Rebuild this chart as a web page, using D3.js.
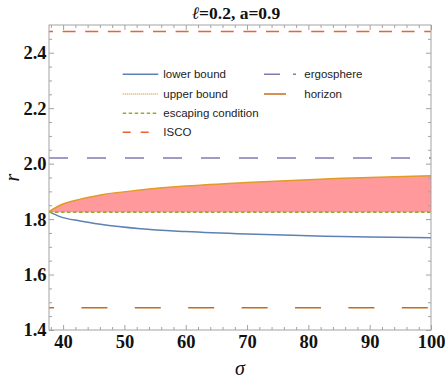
<!DOCTYPE html>
<html>
<head>
<meta charset="utf-8">
<script src="https://cdn.jsdelivr.net/npm/d3@7"></script>
<style>
  body { margin: 0; background: #fff; }
  svg { display: block; }
</style>
</head>
<body>
<script>
// sigma samples and the two bounding curves
const sigma = [37.7, 39.5, 42.8, 46.1, 52.6, 60, 70, 80, 85.4, 90, 100];
const lowerBound = [1.827, 1.809, 1.793, 1.781, 1.765, 1.755, 1.746, 1.740, 1.737, 1.735, 1.733];
const upperBound = [1.827, 1.850, 1.872, 1.887, 1.905, 1.919, 1.932, 1.942, 1.947, 1.950, 1.956];
// constant radii
const escapeR = 1.825;
const iscoR = 2.477;
const ergoR = 2.02;
const horizonR = 1.48;

const xTicks = [40, 50, 60, 70, 80, 90, 100];
const yTicks = [1.4, 1.6, 1.8, 2.0, 2.2, 2.4];
const legendItems = [
  { label: "lower bound", key: "lower" },
  { label: "upper bound", key: "upper" },
  { label: "escaping condition", key: "escape" },
  { label: "ISCO", key: "isco" },
  { label: "ergosphere", key: "ergo" },
  { label: "horizon", key: "horizon" },
];

const W = 445, H = 378;
const margin = { top: 25, left: 49, bottom: 48, right: 14 };
const width = W - margin.left - margin.right;
const height = H - margin.top - margin.bottom;

const styles = {
  lower: { color: "#5E81B5", dash: null, w: 1.5 },
  upper: { color: "#E19C24", dash: null, w: 1.5 },
  escape: { color: "#8FB032", dash: "3.5,2.5", w: 1.9 },
  isco: { color: "#EB6235", dash: "13,9.6", w: 1.5 },
  ergo: { color: "#8778B3", dash: "19,19", w: 1.5 },
  horizon: { color: "#C56E1A", dash: "26,27.4", w: 1.5 },
};

const x = d3.scaleLinear().domain([37.7, 100]).range([0, width]);
const y = d3.scaleLinear().domain([1.4, 2.5]).range([height, 0]);

const svg = d3.select("body").append("svg").attr("width", W).attr("height", H);
const chart = svg.append("g").attr("transform", `translate(${margin.left},${margin.top})`);

const pts = sigma.map((s, i) => ({ s, lo: lowerBound[i], up: upperBound[i] }));

// filled region between escaping condition and upper bound
const area = d3.area()
  .x((d) => x(d.s))
  .y0(() => y(escapeR))
  .y1((d) => y(d.up))
  .curve(d3.curveMonotoneX);
chart.append("path").datum(pts).attr("d", area).attr("fill", "#ff999b");

const line = (key) => d3.line().x((d) => x(d.s)).y((d) => y(d[key])).curve(d3.curveMonotoneX);

function hline(r, st, offset) {
  chart.append("line")
    .attr("x1", 0).attr("x2", width)
    .attr("y1", y(r)).attr("y2", y(r))
    .attr("stroke", st.color).attr("stroke-width", st.w)
    .attr("stroke-dasharray", st.dash)
    .attr("stroke-dashoffset", offset || 0);
}

hline(iscoR, styles.isco, 9);
hline(ergoR, styles.ergo, 0);
hline(horizonR, styles.horizon, 21);

chart.append("path").datum(pts).attr("d", line("lo"))
  .attr("fill", "none").attr("stroke", styles.lower.color).attr("stroke-width", 1.5);
chart.append("path").datum(pts).attr("d", line("up"))
  .attr("fill", "none").attr("stroke", styles.upper.color).attr("stroke-width", 1.5);
hline(escapeR, styles.escape, 0);

// frame with inward ticks on all sides
const frameColor = "#a3a3a3";
const xMinor = d3.range(38, 100.1, 2).filter((v) => !xTicks.includes(v));
const yMinor = d3.range(1.45, 2.5, 0.05).filter((v) => !yTicks.some((t) => Math.abs(t - v) < 1e-6));

function styleAxis(g) {
  g.select(".domain").attr("stroke", frameColor);
  g.selectAll(".tick line").attr("stroke", frameColor);
  g.selectAll("text").attr("fill", "#111").attr("font-family", "'Liberation Serif', serif")
    .attr("font-weight", "bold").attr("font-size", 18.5);
}

chart.append("g").attr("transform", `translate(0,${height})`)
  .call(d3.axisBottom(x).tickValues(xTicks).tickSize(-5).tickPadding(5).tickFormat(d3.format("d")))
  .call(styleAxis);
chart.append("g").attr("transform", `translate(0,${height})`)
  .call(d3.axisBottom(x).tickValues(xMinor).tickSize(-3).tickFormat(""))
  .call(styleAxis);
chart.append("g")
  .call(d3.axisTop(x).tickValues(xTicks).tickSize(-5).tickFormat(""))
  .call(styleAxis);
chart.append("g")
  .call(d3.axisTop(x).tickValues(xMinor).tickSize(-3).tickFormat(""))
  .call(styleAxis);
chart.append("g")
  .call(d3.axisLeft(y).tickValues(yTicks).tickSize(-5).tickPadding(2.5).tickFormat(d3.format(".1f")))
  .call(styleAxis);
chart.append("g")
  .call(d3.axisLeft(y).tickValues(yMinor).tickSize(-3).tickFormat(""))
  .call(styleAxis);
chart.append("g").attr("transform", `translate(${width},0)`)
  .call(d3.axisRight(y).tickValues(yTicks).tickSize(-5).tickFormat(""))
  .call(styleAxis);
chart.append("g").attr("transform", `translate(${width},0)`)
  .call(d3.axisRight(y).tickValues(yMinor).tickSize(-3).tickFormat(""))
  .call(styleAxis);
chart.selectAll(".domain").attr("d", null);
chart.append("rect").attr("width", width).attr("height", height)
  .attr("fill", "none").attr("stroke", frameColor).attr("stroke-width", 1);

// title and axis labels
svg.append("text").attr("x", 236).attr("y", 18.5).attr("text-anchor", "middle")
  .attr("font-family", "'Liberation Serif', serif").attr("font-weight", "bold")
  .attr("font-size", 17.5).attr("fill", "#111")
  .html("<tspan font-style='italic' font-weight='normal'>ℓ</tspan>=0.2, a=0.9");
svg.append("text").attr("x", margin.left + width / 2).attr("y", 375).attr("text-anchor", "middle")
  .attr("font-family", "'Liberation Serif', serif").attr("font-style", "italic")
  .attr("font-size", 20).attr("fill", "#111").text("σ");
svg.append("text").attr("transform", `translate(19,${margin.top + height / 2}) rotate(-90)`)
  .attr("text-anchor", "middle")
  .attr("font-family", "'Liberation Serif', serif").attr("font-style", "italic")
  .attr("font-size", 20).attr("fill", "#111").text("r");

// legend
const legend = svg.append("g").attr("font-family", "'Liberation Sans', Arial, sans-serif")
  .attr("font-size", 11.5).attr("fill", "#222");
const rowY = [74.3, 94, 113.3, 132.3];
const legendPos = [
  { x1: 122.7, x2: 158.3, tx: 163.3, row: 0 },
  { x1: 122.7, x2: 158.3, tx: 163.3, row: 1 },
  { x1: 122.7, x2: 158.3, tx: 163.3, row: 2 },
  { x1: 122.7, x2: 158.3, tx: 163.3, row: 3 },
  { x1: 264, x2: 298, tx: 304.3, row: 0 },
  { x1: 264, x2: 298, tx: 304.3, row: 1 },
];
const legendDash = { lower: null, upper: "1.2,0.8", escape: "3.5,2.5", isco: "8,10", ergo: "16,13,3,100", horizon: "22,100" };
legendItems.forEach((it, i) => {
  const p = legendPos[i];
  const st = styles[it.key];
  legend.append("line")
    .attr("x1", p.x1).attr("x2", p.x2).attr("y1", rowY[p.row]).attr("y2", rowY[p.row])
    .attr("stroke", it.key === "upper" ? "#EDB45A" : st.color).attr("stroke-width", 1.5)
    .attr("stroke-dasharray", legendDash[it.key]);
  legend.append("text").attr("x", p.tx).attr("y", rowY[p.row]).attr("dy", "0.35em").text(it.label);
});
</script>
</body>
</html>
